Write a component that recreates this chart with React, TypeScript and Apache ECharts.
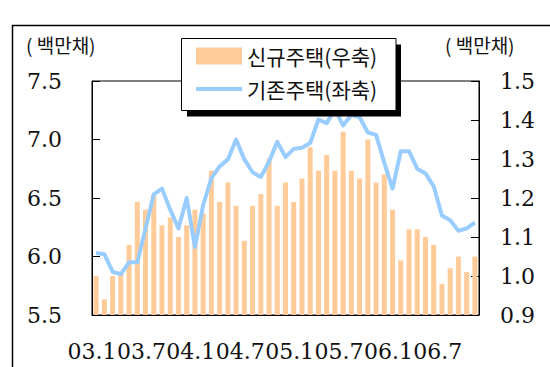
import React, { useEffect, useRef } from "react";
import * as echarts from "echarts";

const months = [
  "03.1","03.2","03.3","03.4","03.5","03.6","03.7","03.8","03.9","03.10","03.11","03.12",
  "04.1","04.2","04.3","04.4","04.5","04.6","04.7","04.8","04.9","04.10","04.11","04.12",
  "05.1","05.2","05.3","05.4","05.5","05.6","05.7","05.8","05.9","05.10","05.11","05.12",
  "06.1","06.2","06.3","06.4","06.5","06.6","06.7","06.8","06.9","06.10","06.11",
];
const xTickLabels = ["03.1", "03.7", "04.1", "04.7", "05.1", "05.7", "06.1", "06.7"];

const newHousing = [
  1.00, 0.94, 1.00, 1.01, 1.08, 1.19, 1.17, 1.21, 1.13, 1.15, 1.10, 1.13,
  1.17, 1.16, 1.27, 1.19, 1.24, 1.18, 1.09, 1.18, 1.21, 1.30, 1.18, 1.24,
  1.19, 1.25, 1.33, 1.27, 1.31, 1.27, 1.37, 1.27, 1.25, 1.35, 1.24, 1.26,
  1.17, 1.04, 1.12, 1.12, 1.10, 1.08, 0.98, 1.02, 1.05, 1.01, 1.05,
];
const existingHousing = [
  6.03, 6.02, 5.87, 5.85, 5.95, 5.95, 6.24, 6.53, 6.58, 6.40, 6.24, 6.50,
  6.08, 6.44, 6.67, 6.77, 6.83, 7.00, 6.83, 6.72, 6.68, 6.81, 6.98, 6.85,
  6.92, 6.93, 6.97, 7.17, 7.14, 7.26, 7.12, 7.21, 7.19, 7.06, 7.04, 6.80,
  6.58, 6.90, 6.90, 6.75, 6.71, 6.60, 6.35, 6.31, 6.22, 6.24, 6.29,
];

const NEW_NAME = "신규주택(우축)";
const OLD_NAME = "기존주택(좌축)";
const UNIT = "( 백만채)";

const SERIF = "'DejaVu Serif', serif";
const KR = "'Noto Sans CJK KR', sans-serif";

// thin horizontal line icon; tiny corner specks keep the path's bounds at 46x17
const LINE_ICON =
  "path://M0,0 L0.01,0 L0,0.01 Z M0,6.5 L46,6.5 L46,10.5 L0,10.5 Z M46,17 L45.99,17 L46,16.99 Z";

export default function App() {
  const ref = useRef<HTMLDivElement>(null);
  useEffect(() => {
    if (!ref.current) return;
    const chart = echarts.init(ref.current, undefined, { renderer: "svg" });
    chart.setOption({
      animation: false,
      backgroundColor: "#fff",
      grid: {
        left: 92,
        right: 71,
        top: 81,
        bottom: 52,
        show: true,
        borderColor: "#000",
        borderWidth: 1,
      },
      legend: {
        z: 20,
        orient: "vertical",
        left: 196,
        top: 45,
        padding: 0,
        itemWidth: 46,
        itemHeight: 17,
        itemGap: 11,
        textStyle: { fontFamily: KR, fontSize: 21, color: "#111", lineHeight: 22 },
        data: [
          { name: NEW_NAME, icon: "rect" },
          { name: OLD_NAME, icon: LINE_ICON, itemStyle: { color: "#99CCFF" } },
        ],
      },
      graphic: [
        {
          type: "rect",
          z: 0,
          shape: { x: 12.5, y: 25.5, width: 700, height: 500 },
          style: { fill: "none", stroke: "#000", lineWidth: 1.5 },
        },
        {
          type: "rect",
          z: 10,
          shape: { x: 187, y: 44.5, width: 214, height: 72 },
          style: { fill: "#000" },
        },
        {
          type: "rect",
          z: 11,
          shape: { x: 181.5, y: 38.5, width: 214.5, height: 72 },
          style: { fill: "#fff", stroke: "#000", lineWidth: 1 },
        },
        {
          type: "text",
          z: 12,
          x: 26,
          y: 44,
          style: { text: UNIT, fontFamily: KR, fontSize: 19, fill: "#111", verticalAlign: "middle" },
        },
        {
          type: "text",
          z: 12,
          x: 445,
          y: 44,
          style: { text: UNIT, fontFamily: KR, fontSize: 19, fill: "#111", verticalAlign: "middle" },
        },
      ],
      xAxis: [
        {
          type: "category",
          data: months,
          boundaryGap: true,
          axisLine: { lineStyle: { color: "#000", width: 1 } },
          axisTick: { inside: true, length: 7, interval: 5, lineStyle: { color: "#000" } },
          axisLabel: { show: false },
        },
        {
          type: "value",
          position: "bottom",
          min: 0,
          max: 47,
          interval: 6,
          axisLine: { show: false },
          axisTick: { show: false },
          splitLine: { show: false },
          axisLabel: {
            margin: 25,
            fontFamily: SERIF,
            fontSize: 22,
            color: "#111",
            formatter: (v: number) => (v % 6 === 0 && xTickLabels[v / 6]) || "",
          },
        },
      ],
      yAxis: [
        {
          type: "value",
          min: 5.5,
          max: 7.5,
          interval: 0.5,
          axisLine: { show: true, lineStyle: { color: "#000" } },
          axisTick: { show: true, inside: true, length: 8, lineStyle: { color: "#000" } },
          splitLine: { show: false },
          axisLabel: {
            margin: 30,
            fontFamily: SERIF,
            fontSize: 22,
            color: "#111",
            formatter: (v: number) => v.toFixed(1),
          },
        },
        {
          type: "value",
          min: 0.9,
          max: 1.5,
          interval: 0.1,
          position: "right",
          axisLine: { show: true, lineStyle: { color: "#000" } },
          axisTick: { show: true, inside: true, length: 8, lineStyle: { color: "#000" } },
          splitLine: { show: false },
          axisLabel: {
            margin: 21,
            fontFamily: SERIF,
            fontSize: 22,
            color: "#111",
            formatter: (v: number) => v.toFixed(1),
          },
        },
      ],
      series: [
        {
          name: NEW_NAME,
          type: "bar",
          xAxisIndex: 0,
          yAxisIndex: 1,
          data: newHousing,
          barWidth: 5,
          itemStyle: { color: "#FFCC99" },
        },
        {
          name: OLD_NAME,
          type: "line",
          xAxisIndex: 0,
          yAxisIndex: 0,
          data: existingHousing,
          symbol: "none",
          smooth: false,
          lineStyle: { color: "#99CCFF", width: 4, join: "round" },
          itemStyle: { color: "#99CCFF" },
        },
      ],
    });
    return () => chart.dispose();
  }, []);
  return (
    <div
      ref={ref}
      style={{ position: "fixed", left: 0, top: 0, width: 550, height: 367, background: "#fff" }}
    />
  );
}
